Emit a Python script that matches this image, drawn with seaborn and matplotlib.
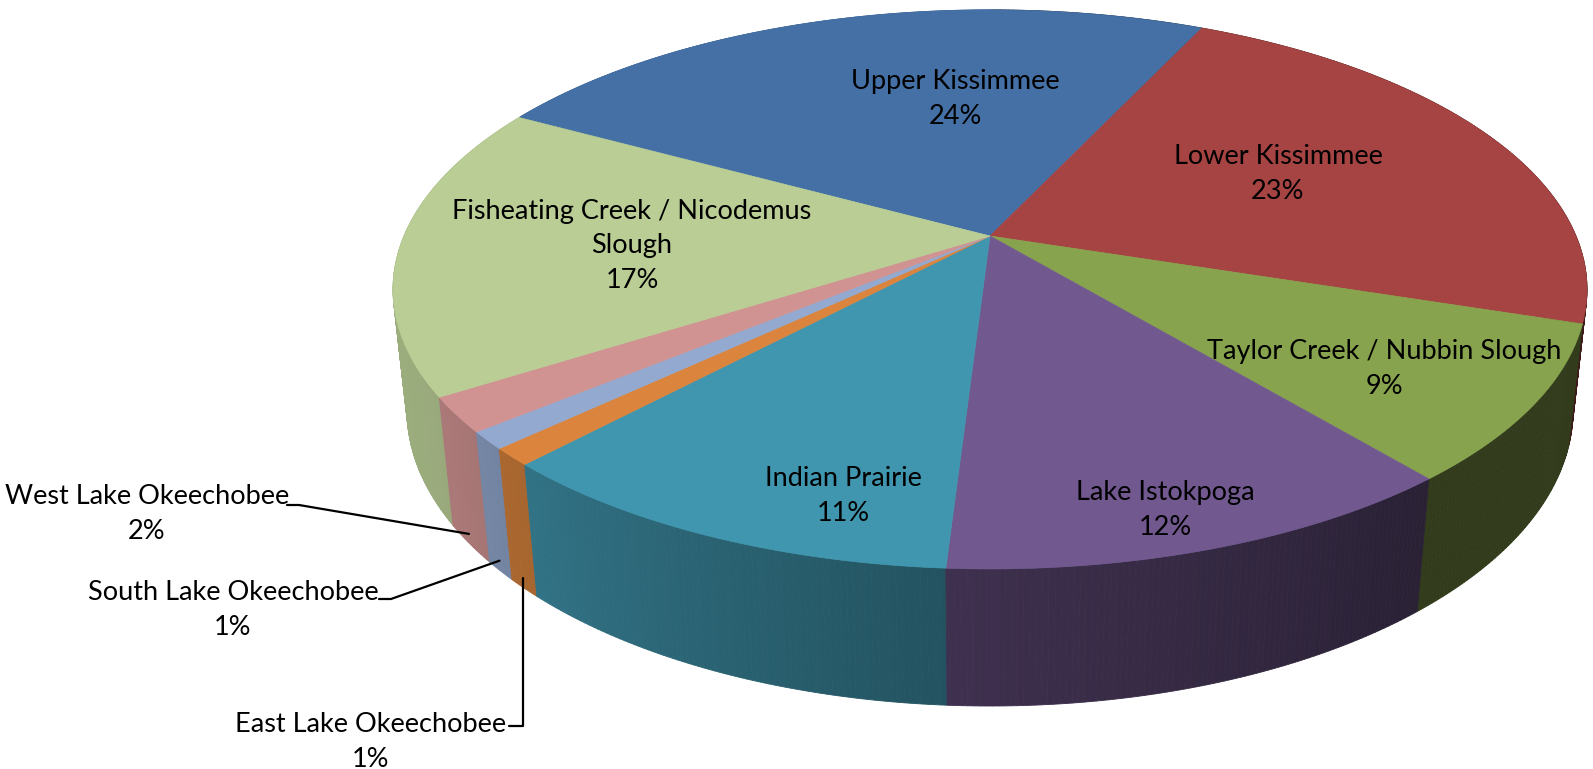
import numpy as np
import matplotlib
matplotlib.use("Agg")
import matplotlib.pyplot as plt
import seaborn as sns
from matplotlib.colors import to_rgb

# Share of load by sub-watershed (clockwise, Excel order)
regions = ["Upper Kissimmee", "Lower Kissimmee", "Taylor Creek / Nubbin Slough",
           "Lake Istokpoga", "Indian Prairie", "East Lake Okeechobee",
           "South Lake Okeechobee", "West Lake Okeechobee",
           "Fisheating Creek / Nicodemus\nSlough"]
shares = [24, 23, 9, 12, 11, 1, 1, 2, 17]
colors = ["#4470A5", "#A54442", "#87A34D", "#71588F", "#4096AE",
          "#DA843D", "#93A9CF", "#D09392", "#B9CD95"]

# label centres (pixels) and leader line starts for the small slices
label_pos = [(955, 99), (1278, 174), (1384, 369), (1165, 510), (843, 496),
             (371, 742), (233, 610), (147, 514), (632, 246)]
leader_start = {5: (509, 726), 6: (379, 599), 7: (287, 505)}

sns.set_theme(style="white")
plt.rcParams['font.family'] = ['Lato', 'DejaVu Sans']

# 3D view settings (Excel-like perspective)
start = -61.3          # degrees clockwise from the back of the pie
elev = np.arcsin(0.4596)
dist = 4.65
depth = 0.234
cx, cy, scale = 990, 236, 586


def project(theta, r=1.0, z=0.0):
    th = np.radians(theta)
    x = r * np.sin(th)
    y = r * np.cos(th)
    w = dist + y * np.cos(elev) - z * np.sin(elev)
    X = x * dist / w
    Y = (y * np.sin(elev) + z * np.cos(elev)) * dist / w
    return cx + scale * X, cy - scale * Y


def shade(theta):
    t = theta % 360
    return np.interp(t, [90, 141, 184, 224, 240, 275],
                     [0.37, 0.37, 0.555, 0.77, 0.83, 0.86])


fig = plt.figure(figsize=(15.93, 7.69), dpi=100)
ax = fig.add_axes([0, 0, 1, 1])
ax.set_xlim(0, 1593)
ax.set_ylim(769, 0)
ax.axis('off')

bounds = start + 360 * np.concatenate([[0], np.cumsum(shares)]) / sum(shares)

# outer wall, split in thin strips so it gets Excel's gradient
strips = []
for i, c in enumerate(colors):
    a = np.arange(bounds[i], bounds[i + 1], 0.5)
    a = np.append(a, bounds[i + 1])
    for t0, t1 in zip(a[:-1], a[1:]):
        strips.append((np.cos(np.radians((t0 + t1) / 2)), t0, t1, c))
strips.sort(key=lambda s: -s[0])
for _, t0, t1, c in strips:
    xs0, ys0 = project(t0)
    xs1, ys1 = project(t1)
    xb1, yb1 = project(t1, z=-depth)
    xb0, yb0 = project(t0, z=-depth)
    col = np.array(to_rgb(c)) * shade((t0 + t1) / 2)
    ax.fill([xs0, xs1, xb1, xb0], [ys0, ys1, yb1, yb0], color=col,
            lw=0.6, ec=col)

# top faces
for i, c in enumerate(colors):
    a = np.linspace(bounds[i], bounds[i + 1], 200)
    px, py = project(a)
    ax.fill(np.r_[cx, px], np.r_[cy, py], color=c, lw=0.5, ec=c)

# labels
for i, name in enumerate(regions):
    x, y = label_pos[i]
    ax.text(x, y, f"{name}\n{shares[i]}%", ha='center', va='center',
            fontsize=19.5, color='black', linespacing=1.5)

# leader lines for the thin slices
for i, (sx, sy) in leader_start.items():
    mid = (bounds[i] + bounds[i + 1]) / 2
    tx, ty = project(mid, z=-0.92 * depth)
    if i == 5:
        ax.plot([sx, tx, tx], [sy, sy, ty], color='black', lw=1.6)
    else:
        ax.plot([sx, sx + 12, tx], [sy, sy, ty], color='black', lw=1.6)

plt.savefig('out.png', dpi=100)
